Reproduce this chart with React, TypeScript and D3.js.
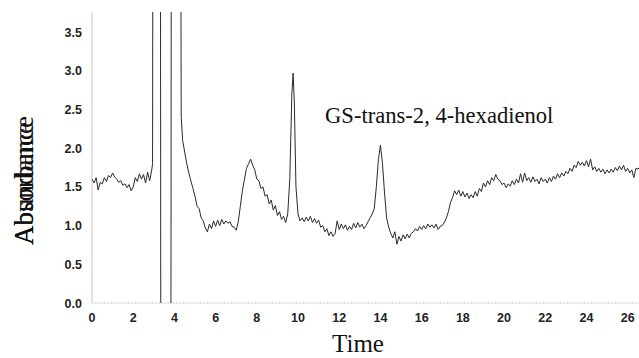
import React, { useEffect, useRef } from 'react';
import * as d3 from 'd3';

type Pt = [number, number];

// retention time (min), abundance
const preSolvent: Pt[] = [
  [0.0, 1.6], [0.1, 1.55], [0.2, 1.62], [0.3, 1.46], [0.4, 1.56], [0.5, 1.54], [0.6, 1.62], [0.7, 1.57],
  [0.8, 1.65], [0.9, 1.62], [1.0, 1.68], [1.1, 1.63], [1.2, 1.6], [1.3, 1.56], [1.4, 1.58], [1.5, 1.52],
  [1.6, 1.54], [1.7, 1.49], [1.8, 1.53], [1.9, 1.45], [2.0, 1.5], [2.1, 1.62], [2.2, 1.57], [2.3, 1.67],
  [2.4, 1.6], [2.5, 1.66], [2.6, 1.55], [2.7, 1.69], [2.8, 1.58], [2.9, 1.72],
];

// off-scale solvent front (clipped by the plot area)
const solventFront: Pt[] = [
  [2.94, 1.8], [2.96, 6], [3.32, 6], [3.34, -1], [3.83, -1], [3.85, 6], [4.3, 6], [4.33, 2.4], [4.4, 2.1],
];

const earlyRun: Pt[] = [
  [4.5, 1.95], [4.6, 1.8], [4.7, 1.68], [4.8, 1.58], [4.9, 1.48], [5.0, 1.38], [5.1, 1.25], [5.2, 1.22],
  [5.3, 1.1], [5.4, 1.06], [5.5, 0.97], [5.6, 0.92], [5.7, 1.02], [5.8, 0.96], [5.9, 1.06], [6.0, 0.99],
  [6.1, 1.07], [6.2, 1.0], [6.3, 1.08], [6.4, 1.02], [6.5, 1.06], [6.6, 1.03], [6.7, 1.05], [6.8, 0.99],
  [6.9, 0.98], [7.0, 0.94], [7.1, 1.05], [7.2, 1.25], [7.3, 1.45], [7.4, 1.6], [7.5, 1.74], [7.6, 1.8],
  [7.7, 1.86], [7.8, 1.78], [7.9, 1.72], [8.0, 1.6], [8.1, 1.58], [8.2, 1.48], [8.3, 1.5], [8.4, 1.38],
  [8.5, 1.4], [8.6, 1.28], [8.7, 1.33], [8.8, 1.2], [8.9, 1.26], [9.0, 1.13], [9.1, 1.18], [9.2, 1.08],
  [9.3, 1.12], [9.4, 1.04], [9.5, 1.15], [9.6, 1.6], [9.7, 2.7], [9.76, 2.97], [9.82, 2.6], [9.9, 1.5],
  [10.0, 1.15], [10.1, 1.06], [10.2, 1.1], [10.3, 1.05], [10.4, 1.11], [10.5, 1.06], [10.6, 1.12],
  [10.7, 1.04], [10.8, 1.09], [10.9, 1.03], [11.0, 1.07], [11.1, 0.98], [11.2, 1.0], [11.3, 0.92],
  [11.4, 0.96], [11.5, 0.87], [11.6, 0.92], [11.7, 0.86], [11.8, 0.9], [11.9, 1.06], [12.0, 0.95],
  [12.1, 1.02], [12.2, 0.96], [12.3, 1.01], [12.4, 0.94], [12.5, 0.99], [12.6, 0.95], [12.7, 1.03],
  [12.8, 0.97], [12.9, 1.04], [13.0, 0.98], [13.1, 1.02], [13.2, 0.96], [13.3, 1.0], [13.4, 1.05],
  [13.5, 1.1], [13.6, 1.15], [13.7, 1.22], [13.8, 1.5], [13.9, 1.85], [14.0, 2.04], [14.1, 1.8],
  [14.2, 1.42], [14.3, 1.1], [14.4, 0.98], [14.5, 0.9], [14.6, 0.84], [14.7, 0.92], [14.8, 0.76],
  [14.9, 0.86], [15.0, 0.8], [15.1, 0.88], [15.2, 0.83], [15.3, 0.89], [15.4, 0.84], [15.5, 0.9],
];

const lateRun: Pt[] = [
  [15.6, 0.92], [15.7, 0.96], [15.8, 0.93], [15.9, 0.99], [16.0, 0.95], [16.1, 1.0], [16.2, 0.96],
  [16.3, 1.02], [16.4, 0.98], [16.5, 1.01], [16.6, 0.97], [16.7, 1.02], [16.8, 0.95], [16.9, 0.99],
  [17.0, 1.0], [17.1, 1.04], [17.2, 1.1], [17.3, 1.18], [17.4, 1.3], [17.5, 1.36], [17.6, 1.45],
  [17.7, 1.4], [17.8, 1.46], [17.9, 1.38], [18.0, 1.44], [18.1, 1.37], [18.2, 1.42], [18.3, 1.35],
  [18.4, 1.4], [18.5, 1.36], [18.6, 1.44], [18.7, 1.38], [18.8, 1.48], [18.9, 1.44], [19.0, 1.55],
  [19.1, 1.5], [19.2, 1.58], [19.3, 1.53], [19.4, 1.62], [19.5, 1.58], [19.6, 1.66], [19.7, 1.6],
  [19.8, 1.58], [19.9, 1.53], [20.0, 1.55], [20.1, 1.49], [20.2, 1.54], [20.3, 1.51], [20.4, 1.58],
  [20.5, 1.53], [20.6, 1.6], [20.7, 1.55], [20.8, 1.67], [20.9, 1.56], [21.0, 1.68], [21.1, 1.58],
  [21.2, 1.62], [21.3, 1.56], [21.4, 1.63], [21.5, 1.57], [21.6, 1.6], [21.7, 1.54], [21.8, 1.62],
  [21.9, 1.57], [22.0, 1.6], [22.1, 1.55], [22.2, 1.62], [22.3, 1.57], [22.4, 1.64], [22.5, 1.6],
  [22.6, 1.67], [22.7, 1.62], [22.8, 1.68], [22.9, 1.64], [23.0, 1.7], [23.1, 1.67], [23.2, 1.74],
  [23.3, 1.7], [23.4, 1.78], [23.5, 1.75], [23.6, 1.83], [23.7, 1.78], [23.8, 1.82], [23.9, 1.77],
  [24.0, 1.84], [24.1, 1.76], [24.2, 1.86], [24.3, 1.72], [24.4, 1.76], [24.5, 1.7], [24.6, 1.74],
  [24.7, 1.69], [24.8, 1.73], [24.9, 1.67], [25.0, 1.72], [25.1, 1.68], [25.2, 1.73], [25.3, 1.69],
  [25.4, 1.75], [25.5, 1.71], [25.6, 1.77], [25.7, 1.72], [25.8, 1.78], [25.9, 1.7], [26.0, 1.74],
  [26.1, 1.68], [26.2, 1.72], [26.3, 1.62], [26.4, 1.74], [26.5, 1.73], [26.6, 1.76],
];

const xTicks = [0, 2, 4, 6, 8, 10, 12, 14, 16, 18, 20, 22, 24, 26];
const yTicks = [0, 0.5, 1, 1.5, 2, 2.5, 3, 3.5];

const App: React.FC = () => {
  const svgRef = useRef<SVGSVGElement | null>(null);

  useEffect(() => {
    if (!svgRef.current) return;
    document.body.style.margin = '0';

    const W = 639;
    const H = 358;
    const svg = d3.select(svgRef.current).attr('width', W).attr('height', H);
    svg.selectAll('*').remove();

    const x = d3.scaleLinear().domain([0, 26.55]).range([92, 639]);
    const y = d3.scaleLinear().domain([0, 3.76]).range([303, 12]);

    // clip the trace to the plot area
    svg.append('defs').append('clipPath').attr('id', 'plot-clip')
      .append('rect')
      .attr('x', x(0)).attr('y', y(3.76))
      .attr('width', x(26.55) - x(0)).attr('height', y(0) - y(3.76));

    // axes
    svg.append('line')
      .attr('x1', x(0)).attr('x2', x(0)).attr('y1', y(3.76)).attr('y2', y(0))
      .attr('stroke', '#c8c8c8');
    svg.append('line')
      .attr('x1', x(0)).attr('x2', W).attr('y1', y(0)).attr('y2', y(0))
      .attr('stroke', '#c8c8c8').attr('stroke-dasharray', '2,1');

    const tickFont = 'Arial, "Liberation Sans", sans-serif';
    svg.append('g').selectAll('text').data(yTicks).join('text')
      .attr('x', 82).attr('y', d => y(d) + 4.5)
      .attr('text-anchor', 'end')
      .attr('font-family', tickFont).attr('font-weight', 'bold').attr('font-size', 12.5)
      .attr('fill', '#222')
      .text(d => d.toFixed(1));

    svg.append('g').selectAll('text').data(xTicks).join('text')
      .attr('x', d => x(d)).attr('y', 322)
      .attr('text-anchor', 'middle')
      .attr('font-family', tickFont).attr('font-weight', 'bold').attr('font-size', 12.5)
      .attr('fill', '#222')
      .text(d => String(d));

    // trace
    const trace = [...preSolvent, ...solventFront, ...earlyRun, ...lateRun];
    const line = d3.line<Pt>().x(d => x(d[0])).y(d => y(d[1]));
    svg.append('path')
      .datum(trace)
      .attr('clip-path', 'url(#plot-clip)')
      .attr('d', line)
      .attr('fill', 'none')
      .attr('stroke', '#2a2a2a')
      .attr('stroke-width', 1)
      .attr('stroke-linejoin', 'round');

    // labels
    const serif = '"Times New Roman", "Liberation Serif", serif';
    svg.append('text')
      .attr('x', 325).attr('y', 123)
      .attr('font-family', serif).attr('font-size', 22.6)
      .attr('fill', '#111')
      .text('GS-trans-2, 4-hexadienol');

    svg.append('text')
      .attr('x', 358).attr('y', 352)
      .attr('text-anchor', 'middle')
      .attr('font-family', serif).attr('font-size', 25)
      .attr('fill', '#111')
      .text('Time');

    // two overlapping y titles, as in the source figure
    ['Absorbance', 'Abundance'].forEach(t => {
      svg.append('text')
        .attr('transform', 'translate(33,245) rotate(-90)')
        .attr('text-anchor', 'start')
        .attr('font-family', serif).attr('font-size', 27)
        .attr('fill', '#111')
        .text(t);
    });
  }, []);

  return <svg ref={svgRef} style={{ display: 'block' }} />;
};

export default App;
